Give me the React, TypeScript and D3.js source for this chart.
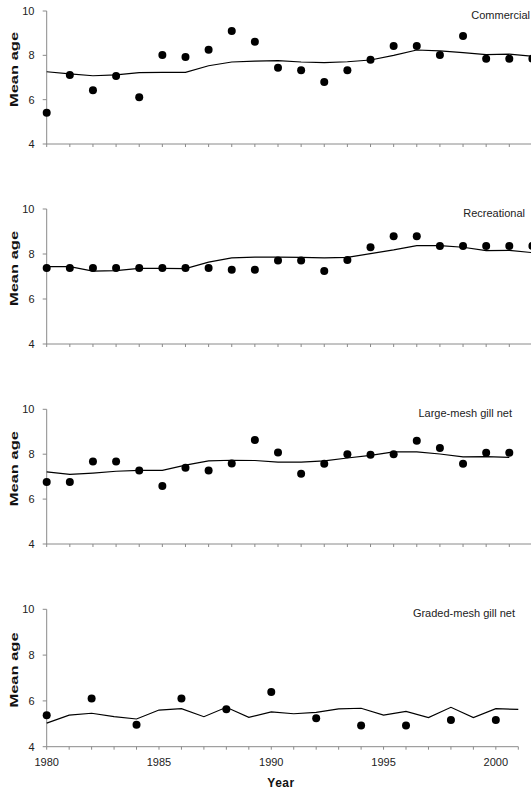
import React from 'react'
import * as d3 from 'd3'

// years shown in the upper three panels
const years = [1980, 1981, 1982, 1983, 1984, 1985, 1986, 1987, 1988, 1989, 1990,
  1991, 1992, 1993, 1994, 1995, 1996, 1997, 1998, 1999, 2000, 2001]

const commercialObs = [5.41, 7.11, 6.42, 7.07, 6.11, 8.02, 7.93, 8.25, 9.10, 8.61, 7.44,
  7.33, 6.80, 7.33, 7.80, 8.42, 8.42, 8.02, 8.87, 7.85, 7.85, 7.85]
const commercialTrend = [7.26, 7.16, 7.08, 7.12, 7.22, 7.23, 7.23, 7.53, 7.70, 7.74, 7.76,
  7.70, 7.67, 7.71, 7.79, 8.00, 8.24, 8.20, 8.12, 8.03, 8.05, 7.96]

const recreationalObs = [7.38, 7.38, 7.38, 7.38, 7.38, 7.38, 7.38, 7.38, 7.30, 7.30, 7.71,
  7.71, 7.25, 7.73, 8.30, 8.79, 8.79, 8.36, 8.36, 8.36, 8.36, 8.36]
const recreationalTrend = [7.44, 7.44, 7.24, 7.26, 7.36, 7.36, 7.35, 7.64, 7.83, 7.86, 7.86,
  7.85, 7.83, 7.85, 8.02, 8.18, 8.37, 8.37, 8.30, 8.15, 8.16, 8.06]

const largeMeshYears = [1980, 1981, 1982, 1983, 1984, 1985, 1986, 1987, 1988, 1989, 1990,
  1991, 1992, 1993, 1994, 1995, 1996, 1997, 1998, 1999, 2000]
const largeMeshObs = [6.76, 6.76, 7.67, 7.67, 7.27, 6.58, 7.40, 7.27, 7.59, 8.63, 8.08,
  7.13, 7.58, 8.00, 7.97, 8.00, 8.60, 8.28, 7.58, 8.07, 8.07]
const largeMeshTrend = [7.21, 7.10, 7.16, 7.24, 7.28, 7.28, 7.51, 7.70, 7.73, 7.72, 7.65,
  7.65, 7.70, 7.83, 7.95, 8.10, 8.10, 8.01, 7.88, 7.89, 7.86]

const gradedObsYears = [1980, 1982, 1984, 1986, 1988, 1990, 1992, 1994, 1996, 1998, 2000]
const gradedObs = [5.37, 6.10, 4.96, 6.10, 5.63, 6.39, 5.24, 4.93, 4.93, 5.17, 5.17]
const gradedTrend = [5.03, 5.38, 5.46, 5.31, 5.21, 5.60, 5.66, 5.31, 5.72, 5.28, 5.52,
  5.44, 5.50, 5.65, 5.68, 5.38, 5.54, 5.27, 5.72, 5.27, 5.66, 5.63]

const yTicks = [4, 6, 8, 10]
const xTickLabels = [1980, 1985, 1990, 1995, 2000]

const W = 531
const H = 790
const AXIS = '#8a8a8a'
const FONT = '"Liberation Sans", Arial, sans-serif'

type Panel = {
  label: string
  labelEnd: number
  top: number
  bottom: number
  obsX: number[]
  obs: number[]
  trendX: number[]
  trend: number[]
  last: boolean
}

const panels: Panel[] = [
  { label: 'Commercial', labelEnd: 530, top: 11, bottom: 144,
    obsX: years, obs: commercialObs, trendX: years, trend: commercialTrend, last: false },
  { label: 'Recreational', labelEnd: 525, top: 209, bottom: 344,
    obsX: years, obs: recreationalObs, trendX: years, trend: recreationalTrend, last: false },
  { label: 'Large-mesh gill net', labelEnd: 512, top: 409.3, bottom: 544,
    obsX: largeMeshYears, obs: largeMeshObs, trendX: largeMeshYears, trend: largeMeshTrend, last: false },
  { label: 'Graded-mesh gill net', labelEnd: 515, top: 609.3, bottom: 746.7,
    obsX: gradedObsYears, obs: gradedObs, trendX: years, trend: gradedTrend, last: true },
]

function PanelChart({ p }: { p: Panel }) {
  const x0 = 46.7
  // upper panels run off the right edge, the bottom one stops at 2001
  const x = p.last
    ? d3.scaleLinear().domain([1980, 2001]).range([x0, 518.3])
    : d3.scaleLinear().domain([1980, 2001]).range([x0, x0 + 21 * 23.13])
  const y = d3.scaleLinear().domain([4, 10]).range([p.bottom, p.top])

  const trendLine = d3.line<number>()
    .x((d, i) => x(p.trendX[i]))
    .y(d => y(d))

  const axisEnd = p.last ? x(2001) : W + 2
  const tickYears = p.last ? years : years.filter(v => x(v) < W)

  return (
    <g>
      {/* y axis */}
      <line x1={x0} x2={x0} y1={y(10)} y2={y(4)} stroke={AXIS} strokeWidth={1} />
      {yTicks.map(t => (
        <g key={t}>
          <line x1={x0 - 4} x2={x0} y1={y(t)} y2={y(t)} stroke={AXIS} />
          <text x={34.5} y={y(t)} dy="0.35em" textAnchor="end" fontSize={11}
            fill="#222" fontFamily={FONT}>{t}</text>
        </g>
      ))}
      {/* x axis */}
      <line x1={x0} x2={axisEnd} y1={y(4)} y2={y(4)} stroke={AXIS} strokeWidth={1} />
      {tickYears.map(v => (
        <line key={v} x1={x(v)} x2={x(v)} y1={y(4)} y2={y(4) + 3} stroke={AXIS} />
      ))}
      {p.last && xTickLabels.map(v => (
        <text key={v} x={x(v)} y={765.5} textAnchor="middle" fontSize={11}
          fill="#222" fontFamily={FONT}>{v}</text>
      ))}
      <text transform={`translate(17.5,${(y(10) + y(4)) / 2 - 8}) rotate(-90) scale(1.5,1)`}
        textAnchor="middle" fontSize={11} fontWeight="bold" fill="#111"
        fontFamily={FONT}>Mean age</text>
      <text x={p.labelEnd} y={p.top + 8} textAnchor="end" fontSize={11}
        fill="#222" fontFamily={FONT}>{p.label}</text>
      <path d={trendLine(p.trend) || ''} fill="none" stroke="#000" strokeWidth={1.2} />
      {p.obs.map((v, i) => (
        <circle key={i} cx={x(p.obsX[i])} cy={y(v)} r={4} fill="#000" />
      ))}
    </g>
  )
}

export default function App() {
  return (
    <svg width={W} height={H}
      style={{ position: 'absolute', left: 0, top: 0, overflow: 'hidden', background: '#fff' }}>
      {panels.map(p => <PanelChart key={p.label} p={p} />)}
      <text x={281} y={787} textAnchor="middle" fontSize={12} fontWeight="bold"
        fill="#111" fontFamily={FONT} letterSpacing={0.5}>Year</text>
    </svg>
  )
}
